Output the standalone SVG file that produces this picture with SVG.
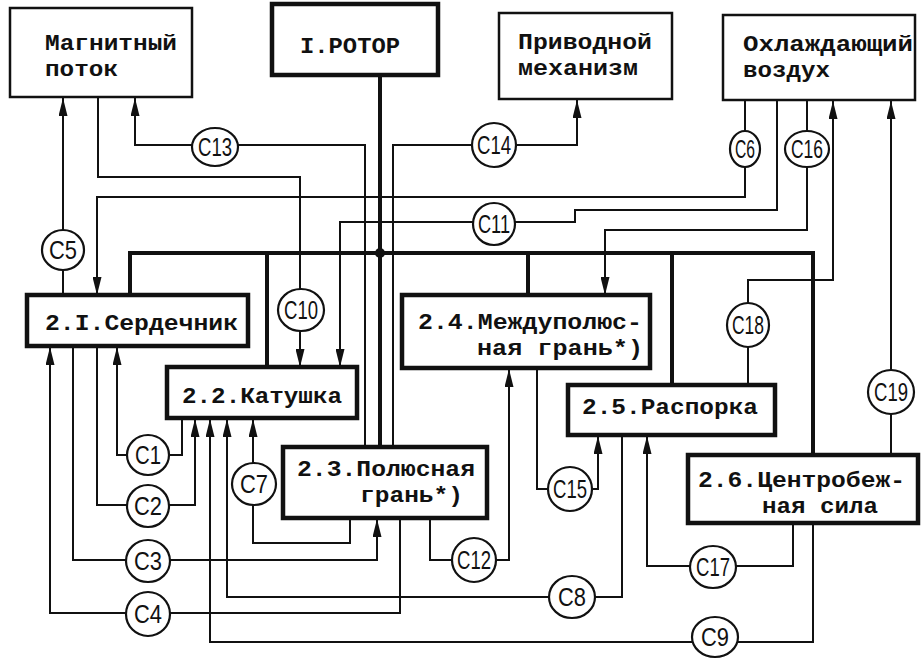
<svg xmlns="http://www.w3.org/2000/svg" width="921" height="659" viewBox="0 0 921 659">
<style>
.box{fill:#fff;stroke:#111;stroke-width:2.5}
.boxb{fill:#fff;stroke:#111;stroke-width:4.5}
.ln{fill:none;stroke:#111;stroke-width:2}
.ar{marker-end:url(#ah)}
.thick{fill:none;stroke:#111;stroke-width:4}
.t{font-family:"Liberation Mono",monospace;font-size:22px;font-weight:bold;fill:#111}
.cl{fill:#fff;stroke:#111;stroke-width:2.2}
.c{font-family:"Liberation Sans Narrow","Liberation Sans",sans-serif;font-size:26px;fill:#111;text-anchor:middle}
</style>
<defs>
<marker id="ah" viewBox="0 0 18 9" refX="18" refY="4.5" markerWidth="18" markerHeight="9" markerUnits="userSpaceOnUse" orient="auto">
<path d="M0,0 L18,4.5 L0,9 z" fill="#111"/>
</marker>
</defs>
<g id="connectors">
<path class="thick" d="M380,75 V447"/>
<path class="thick" d="M130,296 V253 H813 V455"/>
<path class="thick" d="M267,253 V367"/>
<path class="thick" d="M528,253 V295"/>
<path class="thick" d="M672,253 V385"/>
<circle cx="380" cy="253" r="5" fill="#111"/>
<path class="ln ar" d="M63,296 V98"/>
<path class="ln ar" d="M98,97 V177 H300 V367"/>
<path class="ln ar" d="M365,447 V145 H135 V98"/>
<path class="ln ar" d="M393,447 V145 H577 V100"/>
<path class="ln ar" d="M745,100 V197 H97 V295"/>
<path class="ln ar" d="M777,100 V210 H575 V222 H340 V367"/>
<path class="ln ar" d="M807,100 V230 H605 V295"/>
<path class="ln ar" d="M748,385 V280 H833 V101"/>
<path class="ln ar" d="M891,455 V101"/>
<path class="ln ar" d="M182,418 V455 H117 V347"/>
<path class="ln ar" d="M97,346 V505 H195 V419"/>
<path class="ln ar" d="M73,346 V560 H377 V519"/>
<path class="ln ar" d="M400,518 V613 H50 V347"/>
<path class="ln ar" d="M350,518 V543 H253 V419"/>
<path class="ln ar" d="M622,435 V597 H227 V419"/>
<path class="ln ar" d="M813,523 V642 H210 V419"/>
<path class="ln ar" d="M430,518 V560 H509 V369"/>
<path class="ln ar" d="M537,368 V489 H598 V436"/>
<path class="ln ar" d="M793,523 V566 H647 V436"/>
<g id="labels">
<ellipse class="cl" cx="215" cy="147" rx="23" ry="19"/><text class="c" x="215" y="156" textLength="34" lengthAdjust="spacingAndGlyphs">C13</text>
<ellipse class="cl" cx="494" cy="145" rx="22" ry="22"/><text class="c" x="494" y="154" textLength="34" lengthAdjust="spacingAndGlyphs">C14</text>
<ellipse class="cl" cx="494" cy="224" rx="21" ry="21"/><text class="c" x="494" y="233" textLength="32" lengthAdjust="spacingAndGlyphs">C11</text>
<ellipse class="cl" cx="745" cy="149" rx="15" ry="18"/><text class="c" x="745" y="158" textLength="20" lengthAdjust="spacingAndGlyphs">C6</text>
<ellipse class="cl" cx="807" cy="149" rx="22" ry="18"/><text class="c" x="807" y="158" textLength="32" lengthAdjust="spacingAndGlyphs">C16</text>
<ellipse class="cl" cx="63" cy="250" rx="21" ry="20"/><text class="c" x="63" y="259" textLength="28" lengthAdjust="spacingAndGlyphs">C5</text>
<ellipse class="cl" cx="301" cy="310" rx="23" ry="21"/><text class="c" x="301" y="319" textLength="34" lengthAdjust="spacingAndGlyphs">C10</text>
<ellipse class="cl" cx="748" cy="325" rx="21" ry="22"/><text class="c" x="748" y="334" textLength="32" lengthAdjust="spacingAndGlyphs">C18</text>
<ellipse class="cl" cx="891" cy="392" rx="23" ry="22"/><text class="c" x="891" y="401" textLength="34" lengthAdjust="spacingAndGlyphs">C19</text>
<ellipse class="cl" cx="148" cy="455" rx="21" ry="20"/><text class="c" x="148" y="464" textLength="26" lengthAdjust="spacingAndGlyphs">C1</text>
<ellipse class="cl" cx="148" cy="506" rx="21" ry="21"/><text class="c" x="148" y="515" textLength="28" lengthAdjust="spacingAndGlyphs">C2</text>
<ellipse class="cl" cx="148" cy="561" rx="22" ry="21"/><text class="c" x="148" y="570" textLength="28" lengthAdjust="spacingAndGlyphs">C3</text>
<ellipse class="cl" cx="148" cy="614" rx="22" ry="22"/><text class="c" x="148" y="623" textLength="28" lengthAdjust="spacingAndGlyphs">C4</text>
<ellipse class="cl" cx="254" cy="484" rx="22" ry="21"/><text class="c" x="254" y="493" textLength="28" lengthAdjust="spacingAndGlyphs">C7</text>
<ellipse class="cl" cx="474" cy="560" rx="22" ry="22"/><text class="c" x="474" y="569" textLength="34" lengthAdjust="spacingAndGlyphs">C12</text>
<ellipse class="cl" cx="572" cy="597" rx="23" ry="21"/><text class="c" x="572" y="606" textLength="28" lengthAdjust="spacingAndGlyphs">C8</text>
<ellipse class="cl" cx="570" cy="489" rx="22" ry="22"/><text class="c" x="570" y="498" textLength="34" lengthAdjust="spacingAndGlyphs">C15</text>
<ellipse class="cl" cx="713" cy="567" rx="23" ry="21"/><text class="c" x="713" y="576" textLength="34" lengthAdjust="spacingAndGlyphs">C17</text>
<ellipse class="cl" cx="715" cy="637" rx="23" ry="20"/><text class="c" x="715" y="646" textLength="28" lengthAdjust="spacingAndGlyphs">C9</text>
</g>
</g>
<g id="magnetic-flux"><rect class="box" x="10" y="8" width="182" height="89"/><text class="t" x="45" y="50" textLength="132" lengthAdjust="spacingAndGlyphs">Магнитный</text><text class="t" x="45" y="76" textLength="73" lengthAdjust="spacingAndGlyphs">поток</text></g>
<g id="rotor"><rect class="boxb" x="272" y="4" width="166" height="71"/><text class="t" x="300" y="53" textLength="100" lengthAdjust="spacingAndGlyphs">I.РОТОР</text></g>
<g id="drive"><rect class="box" x="499" y="13" width="173" height="86"/><text class="t" x="518" y="49" textLength="134" lengthAdjust="spacingAndGlyphs">Приводной</text><text class="t" x="518" y="75" textLength="120" lengthAdjust="spacingAndGlyphs">механизм</text></g>
<g id="cooling-air"><rect class="box" x="723" y="15" width="192" height="85"/><text class="t" x="743" y="51" textLength="170" lengthAdjust="spacingAndGlyphs">Охлаждающий</text><text class="t" x="743" y="77" textLength="87" lengthAdjust="spacingAndGlyphs">воздух</text></g>
<g id="core"><rect class="boxb" x="27" y="295" width="221" height="51"/><text class="t" x="45" y="330" textLength="193" lengthAdjust="spacingAndGlyphs">2.I.Сердечник</text></g>
<g id="coil"><rect class="boxb" x="167" y="367" width="190" height="51"/><text class="t" x="182" y="403" textLength="160" lengthAdjust="spacingAndGlyphs">2.2.Катушка</text></g>
<g id="pole-face"><rect class="boxb" x="283" y="447" width="204" height="71"/><text class="t" x="297" y="476" textLength="178" lengthAdjust="spacingAndGlyphs">2.3.Полюсная</text><text class="t" x="360" y="502" textLength="103" lengthAdjust="spacingAndGlyphs">грань*)</text></g>
<g id="interpole-face"><rect class="boxb" x="402" y="295" width="248" height="73"/><text class="t" x="418" y="329" textLength="224" lengthAdjust="spacingAndGlyphs">2.4.Междуполюс-</text><text class="t" x="477" y="355" textLength="166" lengthAdjust="spacingAndGlyphs">ная грань*)</text></g>
<g id="spacer"><rect class="boxb" x="568" y="385" width="207" height="50"/><text class="t" x="582" y="414" textLength="176" lengthAdjust="spacingAndGlyphs">2.5.Распорка</text></g>
<g id="centrifugal"><rect class="boxb" x="688" y="455" width="230" height="68"/><text class="t" x="698" y="487" textLength="207" lengthAdjust="spacingAndGlyphs">2.6.Центробеж-</text><text class="t" x="762" y="513" textLength="116" lengthAdjust="spacingAndGlyphs">ная сила</text></g>
</svg>
